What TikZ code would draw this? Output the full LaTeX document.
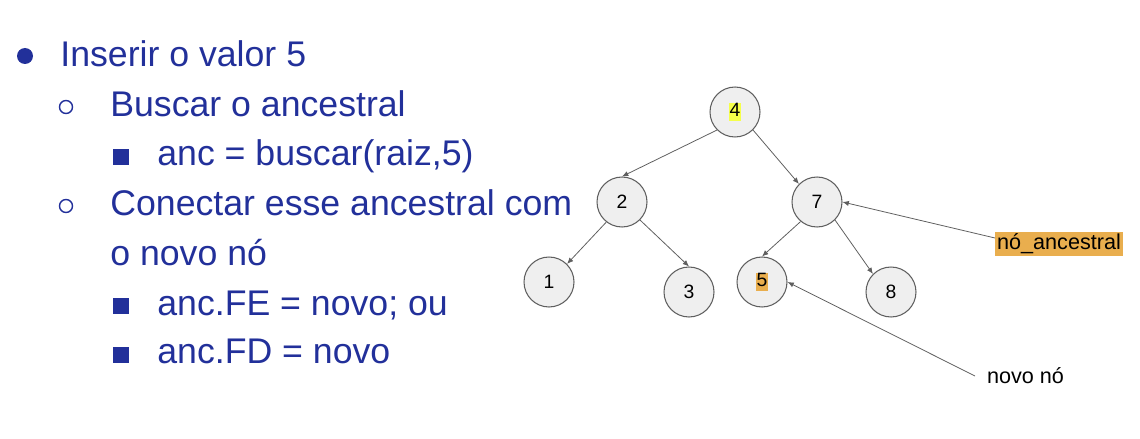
\documentclass[tikz,border=0pt]{standalone}
\usepackage{fontspec}
\setmainfont{Liberation Sans}
\usetikzlibrary{arrows.meta}

\definecolor{listblue}{RGB}{34,48,154}
\definecolor{nodegray}{RGB}{239,239,239}
\definecolor{edgegray}{RGB}{95,95,95}
\definecolor{hlyellow}{RGB}{245,255,74}
\definecolor{hlorange}{RGB}{233,174,78}

\newcommand{\markval}[2]{{\setlength{\fboxsep}{0.4pt}\colorbox{#1}{\vphantom{Ag}#2}}}

\tikzset{
  bst/.style={circle, draw=edgegray, line width=0.6pt, fill=nodegray, minimum size=1cm, inner sep=0pt, font=\fontsize{11}{13}\selectfont},
  ptr/.style={draw=edgegray, line width=0.45pt, -{Latex[length=3.6pt,width=3pt]}},
  item/.style={anchor=base west, inner sep=0pt, text=listblue, font=\fontsize{20.3}{24}\selectfont},
  tag/.style={inner sep=1pt, font=\fontsize{12.3}{14}\selectfont},
}

\begin{document}
\begin{tikzpicture}[x=0.02cm, y=-0.02cm]
  \useasboundingbox (0,0) rectangle (1140,439);

  % list on the left
  \fill[listblue] (25,56) circle (8);
  \node[item] at (60,67) (l1) {Inserir o valor 5};
  \draw[listblue, line width=0.8pt] (66,107) circle (6.5);
  \node[item] at (110,117) (l2) {Buscar o ancestral};
  \fill[listblue] (113,149) rectangle (129,165);
  \node[item] at (157,166) (l3) {anc = buscar(raiz,5)};
  \draw[listblue, line width=0.8pt] (66,206) circle (6.5);
  \node[item] at (110,215) (l4) {Conectar esse ancestral com};
  \node[item] at (110,265) (l5) {o novo nó};
  \fill[listblue] (113,298) rectangle (129,314);
  \node[item] at (157,315) (l6) {anc.FE = novo; ou};
  \fill[listblue] (113,347) rectangle (129,363);
  \node[item] at (157,363) (l7) {anc.FD = novo};

  % tree
  \node[bst] at (735,112) (n4) {\markval{hlyellow}{4}};
  \node[bst] at (622,202) (n2) {2};
  \node[bst] at (817,202) (n7) {7};
  \node[bst] at (549,282) (n1) {1};
  \node[bst] at (689,292) (n3) {3};
  \node[bst] at (762,282) (n5) {\markval{hlorange}{5}};
  \node[bst] at (891,292) (n8) {8};

  \draw[ptr] (n4.south west) -- (n2.north);
  \draw[ptr] (n4.south east) -- (n7.north west);
  \draw[ptr] (n2.-128) -- (n1.north east);
  \draw[ptr] (n2.south east) -- (n3.north);
  \draw[ptr] (n7.-130) -- (n5.north);
  \draw[ptr] (n7.south east) -- (n8.north west);

  % labels
  \node[tag, fill=hlorange] at (1059,244) (anc) {nó\_ancestral};
  \node[tag, anchor=west] at (985,376) (novo) {novo nó};
  \draw[ptr] ([yshift=0.12cm]anc.west) -- (n7.east);
  \draw[ptr] ([xshift=-0.2cm]novo.west) -- (n5.east);
\end{tikzpicture}
\end{document}
